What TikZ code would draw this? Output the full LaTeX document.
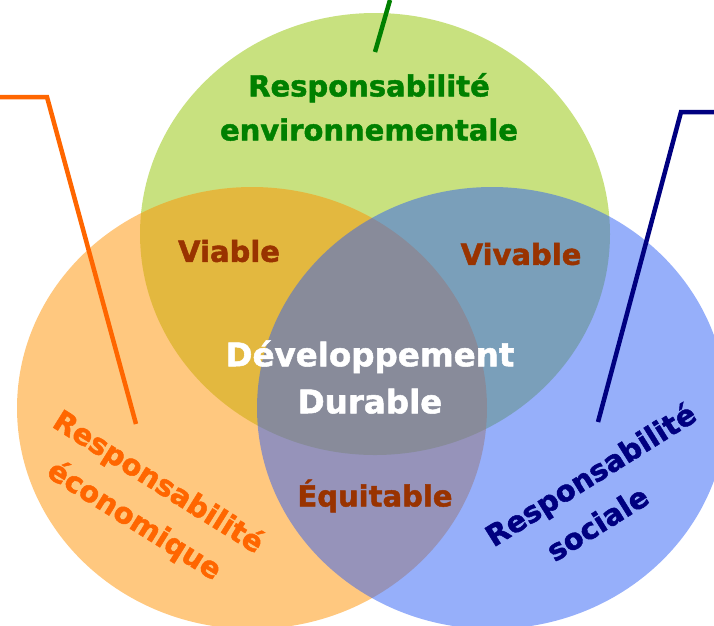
\documentclass[tikz,border=0pt]{standalone}
\usepackage{fontspec}
\setmainfont{DejaVu Sans}[BoldFont={DejaVu Sans Bold}, BoldFeatures={FakeBold=1.6}]
\usepackage{tikz}

\definecolor{envfill}{RGB}{145,195,0}
\definecolor{ecofill}{RGB}{255,145,0}
\definecolor{socfill}{RGB}{45,95,245}
\definecolor{envtext}{RGB}{0,128,0}
\definecolor{ecotext}{RGB}{255,102,0}
\definecolor{soctext}{RGB}{0,0,128}
\definecolor{midtext}{RGB}{153,51,0}

\begin{document}
\begin{tikzpicture}
  [x=1pt, y=-1pt,
   zone/.style={fill opacity=0.5},
   word/.style={font=\fontsize{29}{44}\selectfont\bfseries, inner sep=0pt},
   lead/.style={line width=4.5pt}]
  \useasboundingbox (0,0) rectangle (714,625);
  % the three spheres
  \fill[zone, envfill] (375,234) ellipse [x radius=235, y radius=221];
  \fill[zone, ecofill] (252,408) ellipse [x radius=235, y radius=221];
  \fill[zone, socfill] (492,408) ellipse [x radius=235, y radius=221];
  % leader lines
  \coordinate (env-top) at (390,0);
  \coordinate (env-end) at (375,52);
  \coordinate (eco-start) at (0,97);
  \coordinate (eco-knee) at (47,97);
  \coordinate (eco-end) at (136,424);
  \coordinate (soc-start) at (714,112);
  \coordinate (soc-knee) at (681,112);
  \coordinate (soc-end) at (598,422);
  \draw[lead, envtext] (env-top) -- (env-end);
  \draw[lead, ecotext] (eco-start) -- (eco-knee) -- (eco-end);
  \draw[lead, soctext] (soc-start) -- (soc-knee) -- (soc-end);
  % labels
  \node[word, text=envtext, align=center] (env) at (369,107)
    {Responsabilité\\environnementale};
  \node[word, text=ecotext, rotate=-32, align=center,
    font=\fontsize{29}{45}\selectfont\bfseries] (eco) at (146,502)
    {Responsabilité\\économique};
  \node[word, text=soctext, rotate=32, align=center,
    font=\fontsize{29}{45}\selectfont\bfseries] (soc) at (602,493)
    {Responsabilité\\sociale\hspace*{40pt}};
  \node[word, text=midtext] (viable) at (229,251) {Viable};
  \node[word, text=midtext] (vivable) at (521,254) {Vivable};
  \node[word, text=midtext] (equit) at (375,496) {Équitable};
  \node[word, text=white, align=center, font=\fontsize{32.5}{47}\selectfont\bfseries]
    (dd) at (370,377) {Développement\\Durable};
\end{tikzpicture}
\end{document}
